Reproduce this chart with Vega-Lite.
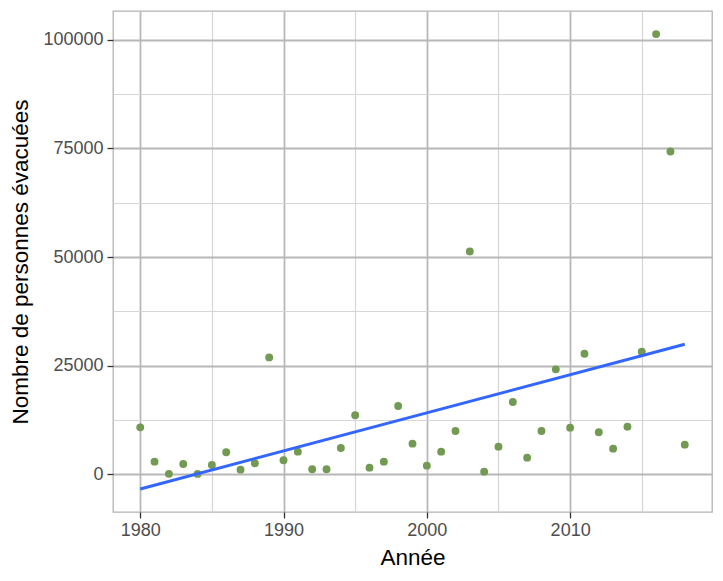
{
  "$schema": "https://vega.github.io/schema/vega-lite/v6.json",
  "width": 599,
  "height": 501,
  "autosize": {"type": "none"},
  "padding": {"left": 113, "top": 11, "right": 11, "bottom": 69},
  "background": "white",
  "config": {
    "font": "Liberation Sans",
    "view": {"stroke": "#B3B3B3", "strokeWidth": 1.3, "fill": "white"},
    "axis": {
      "domain": false,
      "labelFont": "Liberation Sans",
      "titleFont": "Liberation Sans",
      "labelFontSize": 18,
      "labelColor": "#4D4D4D",
      "titleFontSize": 22.5,
      "titleFontWeight": "normal",
      "titleColor": "#000000",
      "tickColor": "#333333",
      "tickSize": 6,
      "tickWidth": 1.3
    }
  },
  "data": {
    "values": [
      {"annee": 1980, "evacues": 10800},
      {"annee": 1981, "evacues": 2900},
      {"annee": 1982, "evacues": 100},
      {"annee": 1983, "evacues": 2370},
      {"annee": 1984, "evacues": 80},
      {"annee": 1985, "evacues": 2140},
      {"annee": 1986, "evacues": 5060},
      {"annee": 1987, "evacues": 1060},
      {"annee": 1988, "evacues": 2530},
      {"annee": 1989, "evacues": 26900},
      {"annee": 1990, "evacues": 3220},
      {"annee": 1991, "evacues": 5200},
      {"annee": 1992, "evacues": 1150},
      {"annee": 1993, "evacues": 1150},
      {"annee": 1994, "evacues": 6050},
      {"annee": 1995, "evacues": 13570},
      {"annee": 1996, "evacues": 1520},
      {"annee": 1997, "evacues": 2900},
      {"annee": 1998, "evacues": 15710},
      {"annee": 1999, "evacues": 7040},
      {"annee": 2000, "evacues": 1980},
      {"annee": 2001, "evacues": 5200},
      {"annee": 2002, "evacues": 9960},
      {"annee": 2003, "evacues": 51290},
      {"annee": 2004, "evacues": 600},
      {"annee": 2005, "evacues": 6350},
      {"annee": 2006, "evacues": 16630},
      {"annee": 2007, "evacues": 3820},
      {"annee": 2008, "evacues": 9960},
      {"annee": 2009, "evacues": 24150},
      {"annee": 2010, "evacues": 10720},
      {"annee": 2011, "evacues": 27740},
      {"annee": 2012, "evacues": 9660},
      {"annee": 2013, "evacues": 5890},
      {"annee": 2014, "evacues": 10950},
      {"annee": 2015, "evacues": 28200},
      {"annee": 2016, "evacues": 101330},
      {"annee": 2017, "evacues": 74290},
      {"annee": 2018, "evacues": 6810}
    ]
  },
  "encoding": {
    "x": {
      "field": "annee",
      "type": "quantitative",
      "title": "Année",
      "scale": {"domain": [1978.1, 2019.9], "nice": false, "zero": false},
      "axis": {
        "values": [1980, 1985, 1990, 1995, 2000, 2005, 2010, 2015],
        "format": "d",
        "labelExpr": "datum.value % 10 === 0 ? datum.label : ''",
        "labelPadding": 3,
        "titlePadding": 7,
        "gridColor": {"condition": {"test": "datum.value % 10 === 0", "value": "#B8B8B8"}, "value": "#D6D6D6"},
        "gridWidth": {"condition": {"test": "datum.value % 10 === 0", "value": 1.8}, "value": 1.2},
        "tickOpacity": {"condition": {"test": "datum.value % 10 === 0", "value": 1}, "value": 0}
      }
    },
    "y": {
      "field": "evacues",
      "type": "quantitative",
      "title": "Nombre de personnes évacuées",
      "scale": {"domain": [-8690, 106640], "nice": false, "zero": false},
      "axis": {
        "values": [0, 12500, 25000, 37500, 50000, 62500, 75000, 87500, 100000],
        "format": "d",
        "labelExpr": "datum.value % 25000 === 0 ? datum.label : ''",
        "labelPadding": 4,
        "titlePadding": 10,
        "gridColor": {"condition": {"test": "datum.value % 25000 === 0", "value": "#B8B8B8"}, "value": "#D6D6D6"},
        "gridWidth": {"condition": {"test": "datum.value % 25000 === 0", "value": 1.8}, "value": 1.2},
        "tickOpacity": {"condition": {"test": "datum.value % 25000 === 0", "value": 1}, "value": 0}
      }
    }
  },
  "layer": [
    {
      "mark": {"type": "circle", "size": 62, "color": "#739A52", "opacity": 1}
    },
    {
      "transform": [{"regression": "evacues", "on": "annee", "method": "linear"}],
      "mark": {"type": "line", "color": "#3366FF", "strokeWidth": 3}
    }
  ]
}
